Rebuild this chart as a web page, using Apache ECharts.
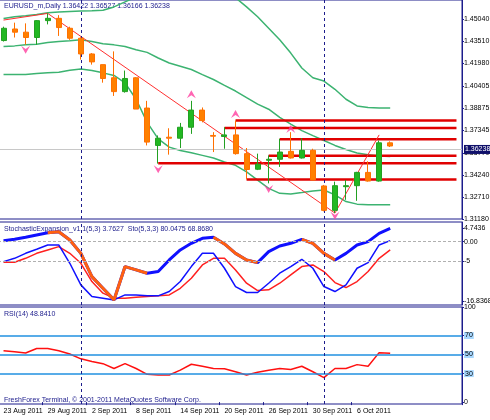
<!DOCTYPE html>
<html><head><meta charset="utf-8">
<script src="https://cdn.jsdelivr.net/npm/echarts@6/dist/echarts.min.js"></script>
<style>html,body{margin:0;padding:0;background:#fff}#c{width:490px;height:420px}</style>
</head><body><div id="c"></div>
<script>
const dates = ['23 Aug 2011','24 Aug 2011','25 Aug 2011','26 Aug 2011','29 Aug 2011','30 Aug 2011','31 Aug 2011',
  '1 Sep 2011','2 Sep 2011','5 Sep 2011','6 Sep 2011','7 Sep 2011','8 Sep 2011','9 Sep 2011','12 Sep 2011','13 Sep 2011',
  '14 Sep 2011','15 Sep 2011','16 Sep 2011','19 Sep 2011','20 Sep 2011','21 Sep 2011','22 Sep 2011','23 Sep 2011',
  '26 Sep 2011','27 Sep 2011','28 Sep 2011','29 Sep 2011','30 Sep 2011','3 Oct 2011','4 Oct 2011','5 Oct 2011',
  '6 Oct 2011','7 Oct 2011','10 Oct 2011','11 Oct 2011','','','','','',''];
// [open, close, low, high]
const candles = [
  [1.4355,1.4440,1.4348,1.4451],[1.4435,1.4413,1.4376,1.4479],[1.4413,1.4376,1.4326,1.4474],[1.4376,1.4493,1.4326,1.4497],
  [1.4493,1.4509,1.4467,1.4543],[1.4509,1.4445,1.4387,1.4531],[1.4440,1.4371,1.4360,1.4451],[1.4371,1.4262,1.4223,1.4378],
  [1.4262,1.4207,1.4188,1.4268],[1.4188,1.4092,1.4063,1.4188],[1.4097,1.4001,1.3971,1.4280],[1.4001,1.4092,1.3994,1.4147],
  [1.4097,1.3880,1.3880,1.4101],[1.3887,1.3651,1.3628,1.3937],[1.3628,1.3678,1.3502,1.3697],[1.3685,1.3678,1.3564,1.3747],
  [1.3678,1.3754,1.3610,1.3784],[1.3754,1.3873,1.3708,1.3937],[1.3873,1.3800,1.3788,1.3891],[1.3697,1.3692,1.3582,1.3720],
  [1.3690,1.3701,1.3605,1.3754],[1.3701,1.3571,1.3564,1.3800],[1.3571,1.3461,1.3393,1.3610],[1.3463,1.3498,1.3457,1.3571],
  [1.3525,1.3532,1.3365,1.3559],[1.3532,1.3582,1.3479,1.3674],[1.3587,1.3541,1.3537,1.3720],[1.3541,1.3594,1.3537,1.3678],
  [1.3594,1.3388,1.3388,1.3605],[1.3347,1.3178,1.3171,1.3354],[1.3178,1.3349,1.3159,1.3377],[1.3342,1.3349,1.3251,1.3388],
  [1.3349,1.3441,1.3244,1.3445],[1.3441,1.3381,1.3377,1.3518],[1.3381,1.3646,1.3377,1.3662],[1.3646,1.3624,1.3617,1.3656]
];
const bandUpper = [1.4508,1.4520,1.4527,1.4536,1.4547,1.4552,1.4556,1.4559,1.4561,1.4565,1.4588,1.4623,1.4657,1.4680,1.4703,1.4714,
  1.4726,1.4726,1.4721,1.4714,1.4691,1.4652,1.4588,1.4520,1.4440,1.4360,1.4268,1.4165,1.4097,1.4074,1.4017,1.3948,1.3902,1.3891,1.3888,1.3888];
const bandMiddle = [1.4314,1.4318,1.4325,1.4330,1.4341,1.4348,1.4353,1.4360,1.4348,1.4332,1.4325,1.4314,1.4291,1.4273,1.4234,1.4199,
  1.4177,1.4154,1.4119,1.4085,1.4044,1.4005,1.3959,1.3914,1.3879,1.3822,1.3776,1.3731,1.3696,1.3662,1.3628,1.3600,1.3575,1.3564,1.3555,1.3552];
const bandLower = [1.4119,1.4119,1.4119,1.4126,1.4131,1.4135,1.4149,1.4158,1.4147,1.4131,1.4113,1.4062,1.3948,1.3788,1.3673,1.3616,
  1.3593,1.3577,1.3559,1.3541,1.3513,1.3490,1.3445,1.3388,1.3330,1.3296,1.3292,1.3301,1.3312,1.3319,1.3285,1.3239,1.3221,1.3216,1.3216,1.3216];
const zigzag = [[0,1.4497],[4,1.4543],[30,1.3159],[34,1.3701]];
// [start index, price]
const levels = [[21,1.3800],[20,1.3749],[25,1.3671],[24,1.3557],[14,1.3504],[22,1.3392]];
const fractalUp = [[17,1.3982],[21,1.3845],[26,1.3742]];
const fractalDown = [[2,1.4291],[14,1.3463],[24,1.3326],[30,1.3140]];
const lastPrice = 1.36238;
const priceTicks = [1.3118,1.3271,1.3424,1.3577,1.3734,1.3887,1.4040,1.4198,1.4351,1.4504];
const priceTickLabels = ['1.31180','1.32710','1.34240','1.35770','1.37345','1.38875','1.40405','1.41980','1.43510','1.45040'];

const stochExp = [0.27,0.61,1.13,1.73,2.33,2.59,0.44,-3.02,-9.05,-12.07,-15.08,-6.45,-7.31,-8.17,-7.74,-4.73,-2.14,-0.42,0.87,1.13,
  -0.59,-3.02,-4.73,-5.42,-2.58,-1.11,-0.42,0.61,-0.42,-3.02,-4.73,-3.02,-0.85,0.01,2.16,3.45];
const stochFalling = [[4,10],[11,13],[19,23],[27,30]];
const stochMain = [-5.16,-4.31,-3.01,-1.97,-0.85,-0.85,-5.59,-11.19,-14.20,-14.63,-15.08,-13.79,-13.79,-14.03,-14.03,-12.91,-10.33,-6.45,
  -3.01,-3.01,-6.88,-11.62,-13.17,-13.17,-10.76,-8.17,-6.45,-4.56,-6.88,-11.62,-12.91,-11.19,-6.88,-5.42,-0.85,0.27];
const stochSignal = [-5.34,-5.34,-4.31,-3.01,-2.14,-1.28,-3.01,-5.59,-10.33,-13.34,-14.63,-14.63,-14.38,-14.20,-14.03,-13.79,-12.07,-9.47,
  -6.02,-4.31,-4.31,-7.31,-10.76,-12.65,-12.48,-10.76,-8.60,-6.45,-6.02,-7.74,-10.59,-11.88,-10.33,-7.74,-4.31,-2.14];
const stochTicks = [3.6,0,-5,-15.5];
const stochTickLabels = ['4.7436','0.00','-5','-16.8368'];

const rsi = [54.0,53.0,51.7,56.4,56.4,54.0,50.6,45.5,42.8,40.4,35.3,40.4,35.3,29.2,28.5,28.5,33.6,39.8,37.7,35.3,35.0,31.9,28.5,31.3,
  33.6,35.3,34.3,37.7,31.9,25.8,35.3,35.3,39.4,37.7,52.0,51.3];
const rsiLevels = [70,50,30];
const rsiTicks = [0,30,50,70,100];

const navy = '#1c1c8c';
const font = 'Liberation Sans';
const fs = 7;
const lastIdx = dates.length - 1;
const vLines = [7,29];
const labelEvery = (i) => i % 4 === 0 && i < 36;

const stochOrange = stochExp.map((v,i) => stochFalling.some(s => i >= s[0] && i <= s[1]) ? v : null);

function xAxisFor(gi, showLabels) {
  return {
    type: 'category', gridIndex: gi, data: dates, boundaryGap: true,
    axisLine: {show: false}, axisTick: {show: showLabels, length: 3, lineStyle: {color: navy}, interval: labelEvery},
    axisLabel: {show: showLabels, interval: labelEvery, align: 'left', margin: 4, hideOverlap: false,
      showMinLabel: true, fontSize: fs, fontFamily: font, color: '#000'},
    splitLine: {show: false}
  };
}
function yAxisFor(gi, min, max, ticks, fmt) {
  return {
    type: 'value', gridIndex: gi, position: 'right', min: min, max: max, scale: true,
    axisLine: {show: true, lineStyle: {color: navy}},
    axisTick: {show: true, length: 2, customValues: ticks, lineStyle: {color: navy}},
    axisLabel: {customValues: ticks, formatter: fmt, fontSize: fs, fontFamily: font, color: '#000', margin: 2, hideOverlap: false},
    splitLine: {show: false}
  };
}

const levelSeries = levels.map(l => ({
  type: 'line', xAxisIndex: 0, yAxisIndex: 0, symbol: 'none', silent: true,
  data: [[l[0], l[1]], [lastIdx, l[1]]], lineStyle: {color: '#e00000', width: 2.5}, z: 3
}));
const gridBase = {left: -2, right: 28, show: true, borderColor: navy, borderWidth: 1, outerBoundsMode: 'none', containLabel: false};

const chart = echarts.init(document.getElementById('c'));
chart.setOption({
  animation: false,
  backgroundColor: '#fff',
  grid: [
    Object.assign({top: 0, height: 219}, gridBase),
    Object.assign({top: 222, height: 83}, gridBase),
    Object.assign({top: 307, height: 97}, gridBase)
  ],
  xAxis: [xAxisFor(0,false), xAxisFor(1,false), xAxisFor(2,true)],
  yAxis: [
    yAxisFor(0, 1.3118, 1.4636, priceTicks, (v) => priceTickLabels[priceTicks.indexOf(v)] || ''),
    yAxisFor(1, -16.4, 5.1, stochTicks, (v) => stochTickLabels[stochTicks.indexOf(v)] || ''),
    yAxisFor(2, -2, 100, rsiTicks, (v) => String(v))
  ],
  graphic: [
    {type: 'text', left: 4, top: 3, style: {text: 'EURUSD_m,Daily 1.36422 1.36527 1.36166 1.36238', fontSize: fs, fontFamily: font, fill: navy}},
    {type: 'text', left: 4, top: 226, style: {text: 'StochasticExpansion_v1.1(5,3) 3.7627  Sto(5,3,3) 80.0475 68.8680', fontSize: fs, fontFamily: font, fill: navy}},
    {type: 'text', left: 4, top: 311, style: {text: 'RSI(14) 48.8410', fontSize: fs, fontFamily: font, fill: navy}},
    {type: 'text', left: 4, top: 397, style: {text: 'FreshForex Terminal, © 2001-2011 MetaQuotes Software Corp.', fontSize: fs, fontFamily: font, fill: navy}}
  ],
  series: [
    {type: 'line', xAxisIndex: 0, yAxisIndex: 0, data: bandUpper, symbol: 'none', lineStyle: {color: '#3cb371', width: 1.5}, z: 2},
    {type: 'line', xAxisIndex: 0, yAxisIndex: 0, data: bandMiddle, symbol: 'none', lineStyle: {color: '#3cb371', width: 1.5}, z: 2},
    {type: 'line', xAxisIndex: 0, yAxisIndex: 0, data: bandLower, symbol: 'none', lineStyle: {color: '#3cb371', width: 1.5}, z: 2},
    {type: 'line', xAxisIndex: 0, yAxisIndex: 0, data: zigzag, symbol: 'none', lineStyle: {color: '#ff3030', width: 1}, z: 4},
    ...levelSeries,
    {type: 'candlestick', xAxisIndex: 0, yAxisIndex: 0, data: candles, barMaxWidth: 8, z: 5,
      itemStyle: {color: '#22b822', color0: '#ff8000', borderColor: '#22a022', borderColor0: '#ff7000', borderWidth: 1},
      markLine: {
        symbol: 'none', silent: true,
        data: [
          {yAxis: lastPrice, lineStyle: {color: '#c8c8c8', type: 'solid', width: 1},
            label: {show: true, position: 'end', formatter: '1.36238', backgroundColor: '#10106a', color: '#fff',
              fontSize: fs, fontFamily: font, padding: [1,1], distance: 2}},
          ...vLines.map(v => ({xAxis: v, lineStyle: {color: navy, type: [3,3], width: 1}, label: {show: false}}))
        ]
      }},
    {type: 'scatter', xAxisIndex: 0, yAxisIndex: 0, data: fractalUp, symbol: 'path://M0,10 L5,0 L10,10 L5,6 Z', symbolSize: [9,8],
      itemStyle: {color: '#ff40a0'}, z: 6},
    {type: 'scatter', xAxisIndex: 0, yAxisIndex: 0, data: fractalDown, symbol: 'path://M0,0 L5,10 L10,0 L5,4 Z', symbolSize: [9,8],
      itemStyle: {color: '#ff40a0'}, z: 6},

    {type: 'line', xAxisIndex: 1, yAxisIndex: 1, data: stochSignal, symbol: 'none', lineStyle: {color: '#ff2020', width: 1.5},
      markLine: {symbol: 'none', silent: true, label: {show: false},
        data: [{yAxis: 0, lineStyle: {color: '#b0b0b0', type: [3,2], width: 1}}, {yAxis: -5, lineStyle: {color: '#b0b0b0', type: [3,2], width: 1}},
          ...vLines.map(v => ({xAxis: v, lineStyle: {color: navy, type: [3,3], width: 1}}))]}},
    {type: 'line', xAxisIndex: 1, yAxisIndex: 1, data: stochMain, symbol: 'none', lineStyle: {color: '#1010ff', width: 1.5}},
    {type: 'line', xAxisIndex: 1, yAxisIndex: 1, data: stochExp, symbol: 'none', lineStyle: {color: '#1010ff', width: 3}},
    {type: 'line', xAxisIndex: 1, yAxisIndex: 1, data: stochOrange, symbol: 'none', connectNulls: false, lineStyle: {color: '#ff6010', width: 3}},

    {type: 'line', xAxisIndex: 2, yAxisIndex: 2, data: rsi, symbol: 'none', lineStyle: {color: '#ff1010', width: 1.5},
      markLine: {symbol: 'none', silent: true,
        data: [
          ...rsiLevels.map(l => ({yAxis: l, lineStyle: {color: '#2090e0', type: 'solid', width: 1.5},
            label: {show: true, position: 'end', formatter: String(l), fontSize: fs, fontFamily: font, color: '#000',
              backgroundColor: '#a8d8ff', padding: [0,1], distance: 2}})),
          ...vLines.map(v => ({xAxis: v, lineStyle: {color: navy, type: [3,3], width: 1}, label: {show: false}}))
        ]}}
  ]
});
</script></body></html>
